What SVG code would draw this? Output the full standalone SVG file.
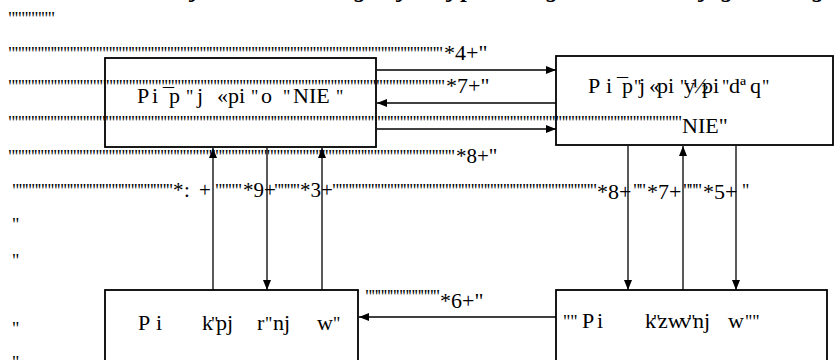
<svg xmlns="http://www.w3.org/2000/svg" width="837" height="360" viewBox="0 0 837 360" font-family="'Liberation Serif', 'Times New Roman', Times, 'DejaVu Serif', serif">
<defs>
<marker id="ah" markerUnits="userSpaceOnUse" markerWidth="10" markerHeight="8" refX="10" refY="4" orient="auto">
<path d="M0,0 L10,4 L0,8 z" fill="#000"/>
</marker>
<style>
text { font-family: 'Liberation Serif', 'Times New Roman', Times, 'DejaVu Serif', serif; fill: #000; }
.q { font-size: 18px; }
.n { font-size: 21px; }
.nb { font-size: 22px; }
.t { font-size: 22px; }
.title { font-size: 24px; font-weight: bold; font-style: italic; }
.box { fill: none; stroke: #000; stroke-width: 1.8; }
.c { fill: none; stroke: #000; stroke-width: 1.3; marker-end: url(#ah); }
</style>
</defs>
<rect width="837" height="360" fill="#fff"/>

<g id="page-text">
<text class="title" y="-3"><tspan x="192">j</tspan><tspan x="355">g</tspan><tspan x="399">j</tspan><tspan x="449">j</tspan><tspan x="462">p</tspan><tspan x="547">g</tspan><tspan x="701">j</tspan><tspan x="722">g</tspan><tspan x="813">g</tspan></text>
<text class="q" x="8" y="24.5" textLength="47" lengthAdjust="spacing">"""""""</text>
<text class="q" x="8" y="60" textLength="435" lengthAdjust="spacing">"""""""""""""""""""""""""""""""""""""""""""""""""""""""""""""""""""</text>
<text class="nb" x="444" y="60">*4+"</text>
<text class="q" x="8" y="93" textLength="437" lengthAdjust="spacing">"""""""""""""""""""""""""""""""""""""""""""""""""""""""""""""""""""</text>
<text class="nb" x="446" y="93">*7+"</text>
<text class="q" x="8" y="129" textLength="674" lengthAdjust="spacing">""""""""""""""""""""""""""""""""""""""""""""""""""""""""""""""""""""""""""""""""""""""""""""""""""""""""</text>
<text class="t" x="682" y="133" font-size="23">NIE"</text>
<text class="q" x="8" y="163" textLength="447" lengthAdjust="spacing">"""""""""""""""""""""""""""""""""""""""""""""""""""""""""""""""""""""</text>
<text class="n" x="456" y="163">*8+"</text>
<text class="q" x="12" y="197" textLength="161" lengthAdjust="spacing">"""""""""""""""""""""""""</text>
<text class="n" y="197"><tspan x="173">*</tspan><tspan x="184">:</tspan><tspan x="199">+</tspan></text>
<text class="q" x="215" y="197" textLength="27" lengthAdjust="spacing">""""</text>
<text class="n" x="243" y="197">*9+</text>
<text class="q" x="274" y="197" textLength="26" lengthAdjust="spacing">""""</text>
<text class="n" x="300" y="197">*3+</text>
<text class="q" x="332" y="197" textLength="265" lengthAdjust="spacing">"""""""""""""""""""""""""""""""""""""""""</text>
<text class="nb" x="597" y="199">*8+</text>
<text class="q" x="633" y="197" textLength="13" lengthAdjust="spacing">""</text>
<text class="nb" x="647" y="199">*7+</text>
<text class="q" x="683" y="197" textLength="19" lengthAdjust="spacing">"""</text>
<text class="nb" x="703" y="199">*5+</text>
<text class="q" x="742" y="197">"</text>
<text class="q" x="12" y="230.5">"</text>
<text class="q" x="12" y="267">"</text>
<text class="q" x="365" y="302.5" textLength="75" lengthAdjust="spacing">""""""""""""</text>
<text class="nb" x="440" y="308">*6+"</text>
<text class="q" x="12" y="335">"</text>
<text class="q" x="12" y="369">"</text>
</g>

<g id="connectors">
<line class="c" x1="377" y1="70" x2="556" y2="70"/>
<line class="c" x1="556" y1="103" x2="377" y2="103"/>
<line class="c" x1="377" y1="129" x2="556" y2="129"/>
<line class="c" x1="213" y1="290" x2="213" y2="148"/>
<line class="c" x1="267" y1="148" x2="267" y2="290"/>
<line class="c" x1="322" y1="290" x2="322" y2="148"/>
<line class="c" x1="628" y1="146" x2="628" y2="290"/>
<line class="c" x1="683" y1="290" x2="683" y2="146"/>
<line class="c" x1="736" y1="146" x2="736" y2="290"/>
<line class="c" x1="556" y1="317" x2="359" y2="317"/>
</g>

<g id="node-top-left">
<rect class="box" x="105" y="58" width="271" height="89"/>
<text class="t" y="103"><tspan x="137">P</tspan><tspan x="152">i</tspan><tspan x="163">¯</tspan><tspan x="169">p</tspan><tspan x="186" font-size="18">"</tspan><tspan x="197">j</tspan><tspan x="217">«</tspan><tspan x="228">pi</tspan><tspan x="251" font-size="18">"</tspan><tspan x="261">o</tspan><tspan x="283" font-size="18">"</tspan><tspan x="293">NIE</tspan><tspan x="336" font-size="18">"</tspan></text>
</g>

<g id="node-top-right">
<rect class="box" x="556" y="56" width="277" height="89"/>
<text class="t" y="93"><tspan x="588">P</tspan><tspan x="606">i</tspan><tspan x="617">¯</tspan><tspan x="622">p</tspan><tspan x="634" font-size="18">"</tspan><tspan x="639">j</tspan><tspan x="649">«</tspan><tspan x="657">pi</tspan><tspan x="680" font-size="18">"</tspan><tspan x="684">y</tspan><tspan x="692">½</tspan><tspan x="702">pi</tspan><tspan x="722" font-size="18">"</tspan><tspan x="729">d</tspan><tspan x="740">ª</tspan><tspan x="750">q</tspan><tspan x="762" font-size="18">"</tspan></text>
</g>

<g id="node-bottom-left">
<rect class="box" x="105" y="290" width="253" height="80"/>
<text class="t" y="330"><tspan x="138">P</tspan><tspan x="156">i</tspan><tspan x="202">k</tspan><tspan x="211" font-size="18">"</tspan><tspan x="216">pj</tspan><tspan x="257">r</tspan><tspan x="265" font-size="18">"</tspan><tspan x="273">nj</tspan><tspan x="317">w</tspan><tspan x="333" font-size="18">"</tspan></text>
</g>

<g id="node-bottom-right">
<rect class="box" x="556" y="290" width="271" height="80"/>
<text class="t" y="328"><tspan x="563" font-size="18">""</tspan><tspan x="582">P</tspan><tspan x="597">i</tspan><tspan x="645">k</tspan><tspan x="653" font-size="18">"</tspan><tspan x="658">zw</tspan><tspan x="680">v</tspan><tspan x="688" font-size="18">"</tspan><tspan x="693">nj</tspan><tspan x="728">w</tspan><tspan x="745" font-size="18">""</tspan></text>
</g>
</svg>
